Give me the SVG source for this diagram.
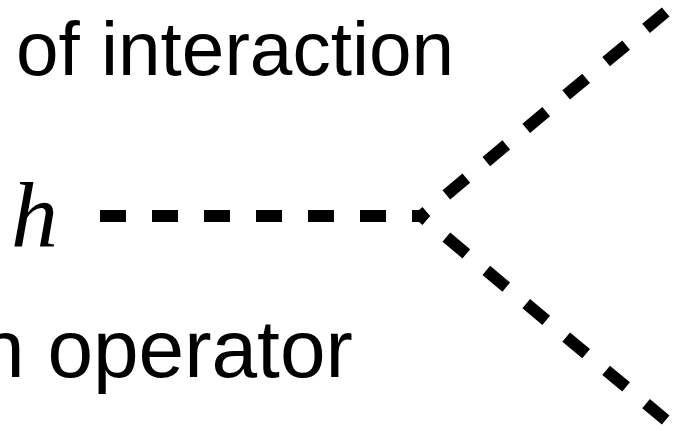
<svg xmlns="http://www.w3.org/2000/svg" width="684" height="431" viewBox="0 0 684 431">
<style>
.lbl{font-family:"Liberation Sans",Arial,sans-serif;fill:#000}
.sym{font-family:"Liberation Serif","Times New Roman",serif;font-style:italic;font-size:94px;fill:#000}
.dash{fill:none;stroke:#000;stroke-width:12;stroke-linejoin:miter;stroke-miterlimit:10;stroke-dasharray:26 26 26 26 26 26 26 26 26 26 26 26 16 26 26 26 26 26 26 26 26 26 26 26 26 26}
</style>
<rect width="684" height="431" fill="#fff"/>
<g id="label-top"><text class="lbl" x="16" y="75" font-size="76.5">of interaction</text></g>
<g id="label-bottom"><text class="lbl" x="-21" y="377" font-size="82">n operator</text></g>
<g id="node-h"><text class="sym" x="11" y="247">h</text></g>
<g id="connectors">
<path class="dash" d="M100,216 H421 L665.7,12"/>
<path class="dash" d="M100,216 H421 L665.7,420"/>
</g>
</svg>
